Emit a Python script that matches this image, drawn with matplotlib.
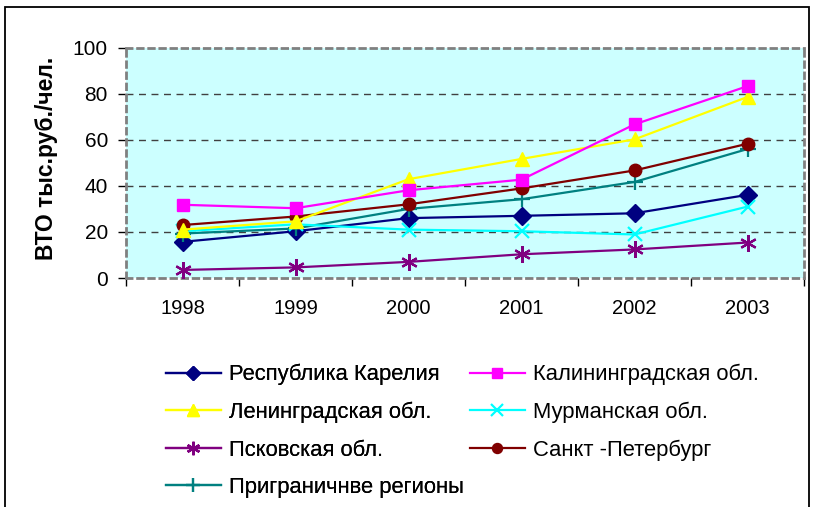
import matplotlib
matplotlib.use("Agg")
import matplotlib.pyplot as plt
from matplotlib.patches import Rectangle

plt.rcParams['font.family'] = ['Liberation Sans', 'DejaVu Sans']

years = ['1998', '1999', '2000', '2001', '2002', '2003']
karelia = [15.7, 20.3, 26.0, 27.0, 28.1, 36.1]
kalinin = [31.8, 30.3, 38.1, 42.7, 66.7, 83.3]
leningr = [21.0, 24.6, 42.9, 51.7, 60.2, 78.6]
murmansk = [20.3, 23.3, 21.0, 20.3, 18.9, 31.0]
pskov = [3.5, 4.6, 7.0, 10.3, 12.4, 15.4]
spb = [23.0, 26.7, 32.0, 38.9, 46.7, 58.3]
border = [19.3, 21.5, 30.0, 34.2, 41.7, 56.0]
yticks = [0, 20, 40, 60, 80, 100]

W, H = 814, 507
fig = plt.figure(figsize=(W / 100, H / 100), dpi=100)
# outer chart border
fig.patches.append(Rectangle((5 / W, -0.05), 804 / W, 1 - 7 / H + 0.05,
                             transform=fig.transFigure, fill=False,
                             edgecolor='black', lw=1.3))

ax = fig.add_axes([126 / W, 1 - 278 / H, (804 - 126) / W, (278 - 47.7) / H])
ax.set_facecolor('#CCFFFF')
x = range(len(years))

# series: label, data, color, marker, size
series = [
    ('Республика Карелия', karelia, '#000080', 'D', 9),
    ('Ленинградская обл.', leningr, '#FFFF00', '^', 10),
    ('Псковская обл.', pskov, '#800080', (6, 2, 0), 12),
    ('Приграничнве регионы', border, '#008080', '+', 12),
    ('Калининградская обл.', kalinin, '#FF00FF', 's', 9),
    ('Мурманская обл.', murmansk, '#00FFFF', 'x', 10),
    ('Санкт -Петербург', spb, '#800000', 'o', 9),
]
handles = []
for lab, vals, col, mk, ms in series:
    h, = ax.plot(x, vals, color=col, lw=1.6, marker=mk, markersize=ms,
                 markeredgewidth=1.6 if mk in ('x', '+', (6, 2, 0)) else 1,
                 markerfacecolor=col, markeredgecolor=col, label=lab)
    handles.append(h)
# draw in chart order so magenta/yellow sit on top
for h, z in zip(handles, [3, 5, 3, 3, 6, 4, 4]):
    h.set_zorder(z)

ax.set_xlim(-0.5, 5.5)
ax.set_ylim(0, 100)
ax.set_yticks(yticks)
ax.set_xticks(list(x))
ax.set_xticklabels(years)
ax.set_xticks([i - 0.5 for i in range(7)], minor=True)
ax.tick_params(axis='x', which='major', length=0, pad=15, labelsize=14.5)
ax.tick_params(axis='x', which='minor', length=6, direction='out', width=1)
ax.tick_params(axis='y', length=6, direction='out', width=1, pad=7,
               labelsize=15)
for yv in yticks[1:-1]:
    ax.axhline(yv, color='#404040', lw=1, ls=(0, (5, 4)), zorder=1)
for s in ax.spines.values():
    s.set_color('#808080')
    s.set_linewidth(2)
    s.set_linestyle((0, (2, 2)))

fig.text(47 / W, 1 - 158 / H, 'ВТО тыс.руб./чел.', rotation=90,
         ha='center', va='center', fontsize=16.5, fontweight='bold')

legend_kw = dict(loc='upper left', frameon=False, fontsize=15.8,
                 handlelength=2.5, handletextpad=0.35, labelspacing=0.75,
                 borderaxespad=0, borderpad=0, markerscale=0.8)
leg1 = fig.legend(handles=handles[:4], bbox_to_anchor=(166 / W, 1 - 364 / H),
                  **legend_kw)
fig.legend(handles=handles[4:], bbox_to_anchor=(470 / W, 1 - 364 / H),
           **legend_kw)
fig.add_artist(leg1)

fig.savefig('out.png', dpi=100)
